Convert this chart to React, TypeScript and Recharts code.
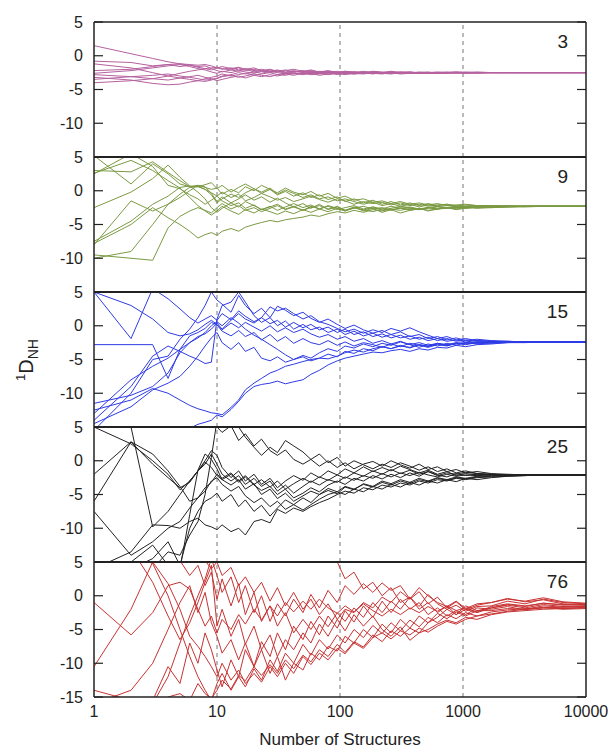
import { LineChart, Line, XAxis, YAxis, ReferenceLine } from 'recharts';

// number of structures (x positions where each running average is read)
const xs = [
  1, 2, 3, 4, 5, 6, 7, 8, 9, 10,
  11, 13, 15, 17, 20, 23, 27, 31, 36, 42,
  50, 58, 68, 80, 95, 110, 130, 155, 185, 220,
  260, 310, 370, 440, 520, 620, 740, 880, 1050, 1300,
  1700, 2300, 3200, 4500, 6500, 10000,
];

const xTicks = [1, 10, 100, 1000, 10000];
const yTicks = [5, 0, -5, -10];
const yTicksLast = [5, 0, -5, -10, -15];

// panel "3"
const n3 = [
  [1.5, 0.3, -0.4, -0.9, -1.2, -1.3, -1.4, -1.3, -1.5, -1.8, -2.0, -1.8, -2.1, -1.9, -2.2, -2.0, -2.3, -2.1, -2.4, -2.2, -2.5, -2.3, -2.6, -2.4, -2.5, -2.3, -2.5, -2.6, -2.4, -2.5, -2.6, -2.5, -2.4, -2.5, -2.6, -2.5, -2.5, -2.4, -2.5, -2.5, -2.5, -2.5, -2.5, -2.5, -2.5, -2.5],
  [-0.8, -1.0, -1.5, -1.3, -1.6, -1.4, -1.7, -1.9, -2.1, -1.8, -1.6, -1.9, -1.7, -2.0, -1.8, -2.2, -2.0, -2.3, -2.1, -2.4, -2.2, -2.5, -2.3, -2.4, -2.6, -2.4, -2.5, -2.3, -2.5, -2.6, -2.4, -2.5, -2.6, -2.4, -2.5, -2.5, -2.6, -2.5, -2.5, -2.4, -2.5, -2.5, -2.5, -2.5, -2.5, -2.5],
  [-1.2, -1.8, -2.5, -3.0, -3.3, -3.1, -2.9, -3.2, -3.4, -3.7, -3.5, -3.2, -3.0, -3.3, -2.9, -3.1, -2.8, -3.0, -2.7, -2.9, -2.6, -2.8, -2.7, -2.5, -2.8, -2.6, -2.7, -2.5, -2.6, -2.7, -2.5, -2.6, -2.5, -2.6, -2.5, -2.6, -2.5, -2.5, -2.6, -2.5, -2.5, -2.5, -2.5, -2.5, -2.5, -2.5],
  [-2.2, -2.0, -1.6, -1.3, -1.2, -1.4, -1.6, -1.5, -1.9, -2.2, -2.4, -2.1, -2.3, -2.0, -2.4, -2.2, -2.5, -2.3, -2.6, -2.4, -2.3, -2.6, -2.4, -2.7, -2.5, -2.6, -2.4, -2.5, -2.7, -2.5, -2.6, -2.4, -2.5, -2.6, -2.5, -2.4, -2.5, -2.6, -2.5, -2.5, -2.5, -2.5, -2.5, -2.5, -2.5, -2.5],
  [-2.8, -3.1, -3.4, -3.6, -3.3, -3.5, -3.7, -3.4, -3.2, -3.0, -2.7, -3.0, -2.8, -2.6, -2.9, -2.7, -2.5, -2.8, -2.6, -2.7, -2.5, -2.7, -2.6, -2.8, -2.6, -2.5, -2.7, -2.6, -2.5, -2.6, -2.7, -2.5, -2.6, -2.5, -2.4, -2.6, -2.5, -2.5, -2.6, -2.5, -2.5, -2.5, -2.5, -2.5, -2.5, -2.5],
  [-3.2, -3.6, -4.1, -4.3, -4.2, -3.9, -3.7, -3.8, -3.6, -3.4, -3.1, -2.9, -3.2, -3.0, -2.7, -2.9, -3.1, -2.8, -2.9, -2.6, -2.8, -2.6, -2.9, -2.7, -2.6, -2.8, -2.6, -2.7, -2.5, -2.6, -2.5, -2.7, -2.6, -2.5, -2.6, -2.5, -2.6, -2.5, -2.5, -2.6, -2.5, -2.5, -2.5, -2.5, -2.5, -2.5],
  [-3.5, -3.1, -2.9, -2.7, -3.0, -3.2, -3.4, -3.6, -3.5, -3.3, -3.0, -2.8, -2.5, -2.7, -2.4, -2.6, -2.3, -2.5, -2.7, -2.5, -2.7, -2.4, -2.6, -2.5, -2.3, -2.5, -2.6, -2.4, -2.6, -2.5, -2.4, -2.6, -2.5, -2.6, -2.5, -2.6, -2.5, -2.4, -2.5, -2.5, -2.5, -2.5, -2.5, -2.5, -2.5, -2.5],
  [-4.0, -3.7, -3.4, -3.0, -2.6, -2.3, -2.1, -1.9, -1.8, -1.7, -1.9, -2.1, -1.8, -2.2, -2.0, -2.3, -2.1, -2.4, -2.2, -2.0, -2.3, -2.1, -2.4, -2.2, -2.5, -2.3, -2.4, -2.6, -2.4, -2.5, -2.3, -2.5, -2.4, -2.6, -2.5, -2.5, -2.4, -2.5, -2.5, -2.5, -2.5, -2.5, -2.5, -2.5, -2.5, -2.5],
  [-2.6, -2.2, -1.8, -1.5, -1.3, -1.6, -1.9, -2.1, -2.4, -2.6, -2.3, -2.5, -2.2, -2.4, -2.6, -2.3, -2.4, -2.2, -2.5, -2.3, -2.4, -2.2, -2.5, -2.3, -2.4, -2.6, -2.4, -2.5, -2.3, -2.4, -2.5, -2.4, -2.5, -2.5, -2.6, -2.5, -2.5, -2.5, -2.4, -2.5, -2.5, -2.5, -2.5, -2.5, -2.5, -2.5],
];

// panel "9"
const n9 = [
  [5.2, 1.0, 4.0, 2.5, 1.0, 0.6, 0.7, 0.2, -0.3, -0.8, -0.2, -1.0, -0.5, -1.5, -1.0, -0.4, -0.9, -1.4, -1.0, -1.6, -1.2, -0.8, -1.3, -1.7, -1.2, -1.5, -2.0, -1.6, -1.9, -1.7, -2.1, -1.8, -2.2, -2.0, -2.3, -2.1, -2.0, -2.2, -2.3, -2.2, -2.3, -2.2, -2.3, -2.3, -2.3, -2.3],
  [3.0, 2.8, 4.3, 2.7, 1.5, 0.6, 0.8, 0.5, 0.2, 0.4, -0.5, 0.2, -0.3, 0.6, 0.0, 0.8, 0.2, -0.3, 0.4, -0.2, -0.6, -0.1, -0.8, -0.4, -1.1, -0.8, -1.4, -1.2, -1.7, -1.5, -1.9, -1.6, -2.0, -1.8, -2.1, -1.9, -2.2, -2.1, -2.0, -2.2, -2.2, -2.3, -2.3, -2.3, -2.3, -2.3],
  [2.5, 5.5, 3.6, 0.8, 0.3, -0.6, -1.2, -2.0, -1.4, -0.8, -1.5, -2.2, -1.8, -2.6, -2.1, -2.8, -2.4, -2.0, -2.7, -2.3, -2.9, -2.5, -2.2, -2.7, -2.4, -2.9, -2.6, -2.3, -2.7, -2.5, -2.8, -2.6, -2.9, -2.7, -2.5, -2.7, -2.6, -2.4, -2.5, -2.4, -2.4, -2.3, -2.3, -2.3, -2.3, -2.3],
  [-2.5, -0.2, 1.8, 3.8, 2.0, 0.7, -0.2, -1.2, -2.5, -3.2, -2.6, -1.8, -2.4, -1.6, -2.2, -2.8, -2.3, -2.9, -2.4, -1.9, -2.5, -2.1, -2.7, -2.3, -2.8, -2.5, -2.2, -2.7, -2.4, -2.9, -2.6, -2.3, -2.5, -2.8, -2.6, -2.4, -2.6, -2.5, -2.3, -2.4, -2.4, -2.3, -2.3, -2.3, -2.3, -2.3],
  [-7.5, -4.5, -2.0, -0.8, 0.5, 0.7, 0.6, 0.9, 1.2, 0.3, 0.8, -0.2, 0.5, 1.0, 0.3, -0.2, 0.4, -0.5, 0.1, -0.4, -1.0, -0.6, -1.2, -0.9, -1.5, -1.2, -1.6, -2.0, -1.7, -2.2, -1.9, -2.3, -2.0, -2.4, -2.1, -2.3, -2.2, -2.4, -2.3, -2.2, -2.3, -2.3, -2.3, -2.3, -2.3, -2.3],
  [-8.0, -1.5, -3.0, -2.0, -1.0, 0.0, 0.8, 0.6, -0.4, -1.6, -0.9, -1.8, -1.2, -0.6, -1.4, -0.9, -1.7, -1.1, -1.8, -2.4, -1.9, -2.6, -2.0, -2.8, -2.3, -2.9, -2.4, -3.0, -2.6, -3.2, -2.8, -3.3, -2.9, -2.6, -3.0, -2.7, -2.5, -2.8, -2.6, -2.4, -2.5, -2.4, -2.3, -2.3, -2.3, -2.3],
  [-9.5, -10.0, -10.3, -5.5, -3.8, -3.0, -2.5, -2.9, -3.3, -2.5, -1.9, -2.7, -2.2, -2.9, -2.5, -3.1, -2.6, -2.2, -2.8, -2.4, -2.9, -2.3, -2.7, -2.2, -2.6, -3.0, -2.5, -2.9, -2.4, -2.7, -2.3, -2.6, -2.4, -2.7, -2.5, -2.3, -2.5, -2.4, -2.6, -2.4, -2.3, -2.3, -2.3, -2.3, -2.3, -2.3],
  [-7.8, -5.0, -2.5, -4.0, -5.0, -6.0, -7.0, -6.5, -6.2, -6.6, -6.0, -5.6, -6.0, -5.4, -5.0, -4.7, -4.4, -4.6, -4.3, -4.1, -3.9, -3.6, -3.8, -3.4, -3.1, -3.3, -2.9, -3.2, -2.8, -3.0, -2.7, -2.9, -2.6, -2.8, -2.5, -2.7, -2.5, -2.6, -2.4, -2.5, -2.4, -2.4, -2.3, -2.3, -2.3, -2.3],
  [-10.0, -9.0, -5.0, -2.0, -0.5, 0.5, 0.6, 0.2, -0.6, -1.8, -1.2, -0.5, -1.0, -0.3, 0.3, -0.4, 0.2, -0.6, -0.1, -0.8, -0.3, -1.0, -0.6, -1.3, -0.9, -1.6, -1.2, -1.8, -1.4, -2.0, -1.6, -2.1, -1.8, -2.2, -1.9, -2.2, -2.0, -2.3, -2.1, -2.2, -2.2, -2.3, -2.3, -2.3, -2.3, -2.3],
  [2.6, 4.5, 3.0, 1.5, 0.4, -1.0, -2.2, -3.0, -3.6, -3.0, -2.3, -3.0, -3.5, -2.8, -3.3, -2.7, -3.1, -3.5, -3.0, -3.4, -2.8, -3.2, -2.7, -3.1, -2.6, -3.0, -2.5, -2.8, -3.1, -2.7, -2.9, -2.5, -2.8, -2.6, -2.9, -2.7, -2.5, -2.7, -2.5, -2.6, -2.5, -2.4, -2.4, -2.3, -2.3, -2.3],
];

// panel "15"
const n15 = [
  [5.0, -1.9, 5.5, 4.0, 2.5, 1.2, 0.4, 1.0, 1.5, 0.8, 1.8, 0.9, 2.2, 1.4, 0.6, 1.2, 0.3, 0.8, -0.2, 0.5, -0.3, 0.2, -0.6, -0.2, -1.0, -0.5, -1.3, -0.9, -1.6, -1.2, -1.8, -1.4, -2.0, -1.7, -2.2, -1.9, -2.3, -2.1, -2.4, -2.2, -2.3, -2.4, -2.4, -2.4, -2.4, -2.4],
  [-2.8, -2.8, -2.8, -7.8, -3.5, -1.5, -1.0, -0.4, 0.5, 0.1, -0.8, -1.5, -0.7, -1.6, -1.0, -2.1, -1.3, -2.3, -1.6, -2.6, -1.9, -2.5, -2.8, -2.2, -2.9, -2.4, -3.0, -2.5, -2.8, -3.2, -2.7, -3.1, -2.6, -2.9, -3.2, -2.8, -3.0, -2.6, -2.8, -2.5, -2.6, -2.5, -2.4, -2.4, -2.4, -2.4],
  [-12.5, -11.0, -9.3, -10.0, -11.0, -11.8, -12.3, -12.6, -12.9, -13.0, -13.2, -12.1, -11.0, -9.5, -8.5, -7.8, -7.0, -6.6, -6.0, -5.7, -5.3, -5.0, -4.8, -4.9, -4.5, -4.0, -3.6, -3.9, -3.4, -3.1, -3.4, -3.0, -3.2, -2.8, -3.0, -2.7, -2.9, -2.6, -2.7, -2.5, -2.5, -2.4, -2.4, -2.4, -2.4, -2.4],
  [-15.5, -10.0, -5.0, -4.5, -2.0, -0.5, 1.2, 3.0, 5.0, 3.8, 3.2, 2.0, 4.5, 3.0, 1.8, 2.6, 1.2, 2.9, 2.3, 1.5, 2.0, 1.1, 0.5, 1.0, 0.2, -0.4, 0.1, -0.6, -1.1, -0.7, -1.3, -0.9, -1.6, -1.3, -1.9, -1.6, -2.1, -1.8, -2.2, -2.0, -2.2, -2.3, -2.4, -2.4, -2.4, -2.4],
  [-16.0, -15.5, -16.0, -15.8, -15.6, -15.2, -14.6, -14.3, -14.0, -13.2, -13.5, -12.4, -11.2, -10.0, -9.0, -8.7, -8.5, -8.2, -8.6, -8.3, -8.0, -7.2, -6.6, -5.8, -5.2, -4.8, -4.5, -4.2, -3.9, -4.0, -3.7, -3.5, -3.8, -3.4, -3.6, -3.2, -3.3, -2.9, -3.1, -2.8, -2.7, -2.5, -2.5, -2.4, -2.4, -2.4],
  [-14.0, -9.0, -4.5, -3.0, -3.8, -4.5, -5.0, -5.6, -5.4, 1.0, 3.0, 3.5, 5.0, 3.5, 1.5, 0.5, 1.2, 0.0, 0.7, -0.5, 0.2, -0.6, -0.2, -1.0, -0.5, -1.3, -0.8, -1.5, -1.1, -1.7, -1.3, -1.8, -1.5, -2.0, -1.7, -2.2, -1.9, -2.3, -2.1, -2.3, -2.3, -2.4, -2.4, -2.4, -2.4, -2.4],
  [-13.0, -8.0, -6.0, -4.8, -3.5, -2.5, -1.8, -1.0, 0.0, 0.6, 0.0, 1.2, 0.4, -0.5, -1.4, -2.0, -2.8, -3.5, -4.3, -5.0, -4.6, -5.2, -4.8, -4.2, -4.6, -3.8, -4.1, -3.4, -3.7, -3.1, -3.4, -2.9, -3.3, -2.8, -3.1, -2.6, -2.9, -2.7, -2.5, -2.6, -2.5, -2.4, -2.4, -2.4, -2.4, -2.4],
  [-11.5, -10.3, -9.0, -7.0, -4.0, -2.5, -1.6, -1.2, -0.5, 0.4, -0.5, 0.8, 1.8, 1.0, 0.4, 1.2, 2.8, 2.2, 2.6, 1.8, 1.0, 1.5, 0.6, 0.2, -0.4, -0.9, -0.5, -1.1, -0.6, -1.0, -0.4, -0.8, -0.3, -0.9, -1.4, -1.9, -1.6, -2.1, -1.9, -2.2, -2.3, -2.3, -2.4, -2.4, -2.4, -2.4],
  [5.0, 3.0, 1.0, -1.0, -1.5, -1.2, -0.6, 0.2, 0.8, 0.2, -0.6, 0.4, -0.3, 0.5, -0.2, -0.8, 0.0, -0.9, -0.3, -1.0, -0.5, -1.2, -1.7, -1.3, -2.0, -1.6, -2.3, -1.9, -2.6, -2.2, -2.7, -2.3, -2.8, -2.5, -2.9, -2.6, -2.8, -2.5, -2.6, -2.4, -2.4, -2.4, -2.4, -2.4, -2.4, -2.4],
  [-14.5, -12.0, -9.5, -8.5, -7.5, -6.0, -4.5, -3.0, -1.8, -1.0, -2.5, -3.5, -2.5, -3.8, -3.2, -4.8, -5.2, -4.6, -5.4, -5.0, -4.4, -4.8, -4.0, -3.4, -3.8, -3.0, -3.3, -2.7, -3.1, -2.6, -2.9, -2.4, -2.8, -3.2, -2.7, -3.0, -2.6, -2.9, -2.5, -2.7, -2.5, -2.4, -2.4, -2.4, -2.4, -2.4],
];

// panel "25"
const n25 = [
  [5.0, 2.5, 0.0, -2.0, -4.3, -3.0, -1.5, -0.5, 1.0, -0.5, -2.0, -3.0, -2.2, -3.5, -2.6, -3.8, -3.0, -4.5, -3.6, -4.8, -3.8, -3.0, -3.6, -2.8, -3.2, -2.4, -2.9, -2.2, -2.6, -1.9, -2.4, -1.8, -2.2, -1.7, -2.1, -2.4, -2.0, -2.3, -2.1, -2.2, -2.1, -2.1, -2.1, -2.1, -2.1, -2.1],
  [8.0, 5.0, -9.8, -7.5, -5.0, -3.0, -1.5, 0.0, 1.5, 0.8, -1.0, -2.5, -1.5, -3.0, -2.0, -3.5, -2.6, -4.0, -3.0, -2.2, -2.9, -1.8, -2.5, -1.5, -2.1, -1.2, -1.8, -0.9, -1.6, -1.0, -1.5, -0.8, -1.3, -1.8, -1.4, -2.0, -1.6, -2.2, -1.9, -2.1, -2.0, -2.1, -2.1, -2.1, -2.1, -2.1],
  [-2.0, 2.8, -0.5, -2.5, -4.0, -3.2, -1.5, -0.2, -1.0, -2.2, -2.8, -3.6, -2.8, -4.2, -3.4, -5.0, -4.2, -5.6, -4.8, -6.0, -5.2, -4.5, -5.0, -4.1, -4.6, -3.8, -4.2, -3.5, -3.9, -3.2, -3.6, -3.0, -3.4, -2.8, -3.1, -2.6, -2.9, -2.5, -2.7, -2.4, -2.3, -2.2, -2.1, -2.1, -2.1, -2.1],
  [-6.0, 2.8, 1.0, -1.5, -3.8, -6.0, -5.5, -4.0, -3.2, -2.0, -2.6, -1.8, -3.0, -2.2, -3.5, -2.8, -3.9, -3.0, -4.2, -3.4, -2.6, -3.2, -2.4, -2.9, -2.1, -2.6, -1.8, -2.3, -1.5, -2.0, -1.3, -1.9, -1.4, -2.0, -1.6, -2.2, -1.8, -2.0, -1.7, -1.9, -2.0, -2.1, -2.1, -2.1, -2.1, -2.1],
  [-7.5, -14.0, -12.0, -10.0, -9.0, -7.0, -5.5, -4.5, -3.0, -2.5, -3.5, -4.5, -3.8, -5.2, -6.2, -5.5, -6.8, -6.0, -7.2, -6.5, -7.3, -6.5, -5.7, -5.0, -4.6, -5.0, -4.2, -4.6, -3.8, -4.2, -3.5, -3.9, -3.2, -3.6, -3.0, -3.3, -2.8, -3.1, -2.6, -2.8, -2.5, -2.3, -2.2, -2.1, -2.1, -2.1],
  [-16.0, -13.5, -9.5, -9.6, -10.0, -9.0, -8.5, -9.5, -9.8, -10.2, -9.5, -10.5, -10.0, -11.0, -9.0, -8.7, -9.2, -7.2, -7.8, -7.0, -7.5, -6.8, -6.2, -5.7, -5.0, -4.5, -4.8, -4.0, -4.3, -3.6, -3.9, -3.3, -3.6, -3.0, -3.3, -2.8, -3.0, -2.6, -2.8, -2.5, -2.4, -2.3, -2.2, -2.1, -2.1, -2.1],
  [-17.0, -16.0, -14.5, -12.0, -15.5, -10.0, -7.5, -6.0, -5.5, -4.8, -6.0, -5.0, -6.8, -5.8, -7.5, -6.6, -8.2, -7.0, -5.8, -6.5, -5.5, -6.2, -5.0, -4.4, -4.9, -3.9, -4.3, -3.4, -3.8, -3.0, -3.4, -2.8, -3.2, -2.6, -3.0, -2.5, -2.8, -2.4, -2.6, -2.3, -2.2, -2.2, -2.1, -2.1, -2.1, -2.1],
  [-16.5, -15.0, -12.5, -15.5, -16.0, -8.0, -1.4, 1.0, 0.2, -1.2, -2.8, -2.0, -3.2, -2.4, -3.6, -4.4, -3.8, -5.0, -4.2, -5.5, -4.8, -4.0, -4.6, -3.6, -3.0, -3.5, -2.6, -3.0, -2.2, -2.7, -2.0, -2.5, -1.8, -2.3, -1.6, -2.1, -2.4, -1.9, -2.2, -2.0, -2.1, -2.1, -2.1, -2.1, -2.1, -2.1],
  [-15.5, -17.0, -16.0, -13.5, -14.0, -11.0, -9.0, -5.0, 0.5, 6.0, 7.0, 5.5, 5.0, 3.5, 2.0, 0.8, 2.0, 1.2, 3.0, 2.2, 1.3, 0.2, 1.0, -0.3, 0.5, -0.8, 0.0, -0.6, -1.2, -0.5, -1.0, -0.3, -0.8, -1.4, -0.9, -1.6, -1.2, -1.8, -1.5, -1.9, -2.0, -2.1, -2.1, -2.1, -2.1, -2.1],
  [6.0, 7.0, 8.0, 9.0, 9.0, 8.0, 7.0, 6.0, 5.5, 5.0, 4.2, 5.2, 3.0, 4.0, 2.2, 3.2, 1.5, 0.8, 1.6, 0.2, -0.5, 0.2, -0.8, 0.0, -1.0, -0.3, -1.2, -0.5, -0.1, -0.8, 0.0, -0.6, -1.1, -0.5, -1.3, -0.9, -1.6, -1.3, -1.8, -1.6, -1.9, -2.0, -2.1, -2.1, -2.1, -2.1],
];

// panel "76"
const n76 = [
  [-1.0, -5.8, -2.5, 1.5, 2.0, 1.0, -2.0, -4.5, -3.0, -5.5, -3.5, -5.0, -2.8, -4.2, -2.0, -3.6, -1.5, -3.0, -1.0, -2.4, -0.8, -2.0, -0.5, -1.8, -2.6, -1.5, -2.4, -1.2, -2.2, -3.0, -2.0, -2.8, -1.8, -2.5, -1.6, -2.3, -1.5, -2.2, -1.8, -2.4, -1.6, -1.2, -1.5, -1.1, -1.4, -1.3],
  [-10.5, -2.0, 5.0, 1.8, -2.0, -6.0, -7.5, -9.0, -10.5, -12.0, -10.0, -12.5, -11.0, -13.0, -11.5, -12.8, -10.5, -12.0, -10.0, -11.5, -9.0, -10.2, -8.5, -9.5, -7.8, -8.6, -7.0, -7.8, -6.2, -5.5, -6.4, -5.2, -5.8, -4.8, -5.4, -4.5, -3.8, -4.2, -3.5, -3.0, -2.7, -2.3, -2.0, -1.8, -1.9, -1.7],
  [-14.0, -15.5, -16.0, -12.0, -7.0, -3.0, 0.0, 2.5, 5.5, 3.0, 0.5, 2.8, -1.0, 1.5, -2.5, 0.0, -3.8, -1.2, -3.0, -0.5, -2.5, 0.2, -1.8, 0.8, -1.0, 1.5, 0.2, 1.8, 0.5, 1.9, 0.8, 1.5, -0.5, 0.6, -1.2, -0.2, -1.8, -0.9, -2.1, -1.4, -1.0, -0.5, -0.8, -0.3, -0.9, -1.1],
  [8.0, 6.0, 4.8, 0.0, -5.0, -9.0, -12.0, -14.0, -15.5, -13.0, -11.5, -14.0, -12.0, -13.5, -10.8, -12.5, -9.5, -11.2, -8.5, -10.0, -7.2, -8.8, -6.5, -7.9, -5.8, -7.0, -5.0, -6.2, -4.4, -5.6, -4.0, -5.2, -3.6, -4.6, -3.2, -4.0, -2.8, -3.4, -2.5, -3.0, -2.4, -2.1, -1.9, -1.8, -1.7, -1.6],
  [9.0, 7.0, 2.0, -3.0, -6.5, -4.0, -1.0, 2.0, 4.5, -4.5, -2.0, -6.0, -3.5, -7.2, -4.5, -8.0, -5.8, -9.0, -6.5, -8.0, -5.5, -7.0, -4.2, -6.0, -3.5, -5.2, -2.8, -4.5, -3.0, -5.0, -6.0, -4.6, -6.6, -5.5, -4.0, -3.2, -2.0, -2.8, -1.5, -2.2, -1.8, -1.4, -1.8, -1.3, -1.6, -1.5],
  [7.0, 9.0, 8.0, 6.0, 5.2, 3.0, 4.5, 1.5, 3.5, -0.5, 2.5, -1.5, 1.8, -2.8, 0.5, -3.8, -1.5, -4.5, -2.5, -5.5, -3.5, -5.0, -3.0, -4.6, -2.5, -3.8, -1.8, -3.2, -1.0, -2.5, -0.8, -2.0, -0.2, -1.6, 0.2, -1.2, -2.0, -1.4, -2.3, -1.6, -1.5, -0.8, -1.2, -0.5, -1.0, -1.2],
  [-17.0, -16.5, -15.5, -10.5, -13.0, -7.0, -10.0, -5.5, -8.0, -11.0, -13.5, -9.5, -12.0, -8.0, -10.5, -6.8, -9.0, -5.5, -8.0, -4.5, -6.5, -3.8, -5.8, -3.0, -4.8, -2.2, -3.9, -1.5, -3.2, -0.8, -2.5, -0.5, -2.0, -1.0, -2.8, -1.8, -3.0, -2.2, -2.8, -1.8, -2.0, -1.6, -2.1, -1.7, -2.0, -1.9],
  [-18.0, -17.0, -16.5, -15.0, -14.5, -15.5, -13.0, -14.5, -15.2, -14.0, -12.5, -13.8, -11.8, -12.6, -10.5, -11.8, -10.2, -11.5, -9.5, -10.8, -8.8, -9.8, -8.0, -9.0, -7.2, -8.4, -6.8, -7.6, -5.8, -6.8, -5.2, -6.0, -4.8, -5.5, -5.0, -4.2, -3.6, -4.0, -3.2, -3.5, -2.8, -2.4, -2.2, -2.0, -1.9, -1.8],
  [10.0, 12.0, 11.0, 9.0, 8.0, 7.0, 6.0, 5.2, 4.0, 5.0, 3.0, 4.2, 1.5, 2.8, 0.5, 2.0, -0.8, 1.2, -1.5, 0.5, -2.0, -0.5, -2.8, -1.2, -3.5, -2.0, -2.5, -1.0, -1.8, -0.2, -1.0, 0.6, -0.5, 1.2, 0.0, -1.0, -1.6, -0.8, -1.9, -1.2, -1.0, -0.4, -0.9, -0.6, -1.2, -1.3],
  [12.0, 14.0, 13.0, 12.0, 11.0, 10.0, 9.0, 8.5, 8.0, 7.5, 7.0, 6.5, 6.0, 5.5, 5.8, 5.2, 6.0, 5.5, 6.5, 6.0, 6.8, 6.5, 6.2, 5.8, 5.0, 2.5, 3.5, 1.0, 2.0, 0.0, 1.2, -1.0, -0.2, -2.0, -1.0, -2.5, -1.5, -2.8, -2.0, -2.5, -1.8, -1.3, -1.6, -1.1, -1.3, -1.4],
  [-16.0, -14.0, -10.0, -5.0, -1.0, 1.5, -2.5, 0.5, -4.0, -6.0, -8.5, -6.5, -9.5, -7.0, -10.5, -8.0, -11.5, -9.0, -12.5, -10.0, -11.0, -8.5, -9.5, -7.5, -8.2, -6.0, -7.0, -5.0, -6.2, -4.2, -5.5, -3.5, -4.8, -3.0, -4.0, -2.6, -3.4, -2.4, -3.0, -2.2, -2.2, -1.9, -2.0, -1.5, -1.7, -1.6],
];

const PLOT_TOP = 22;
const PANEL_H = 135;

const panels = [
  { label: '3', lines: n3, color: '#b5619f' },
  { label: '9', lines: n9, color: '#7b9a42' },
  { label: '15', lines: n15, color: '#2e3be6' },
  { label: '25', lines: n25, color: '#222222' },
  { label: '76', lines: n76, color: '#c83232' },
];

function Panel({ lines, color, label, index, last }: any) {
  const data = xs.map((x, i) => {
    const row: Record<string, number> = { x };
    lines.forEach((l: number[], j: number) => {
      row['s' + j] = l[i];
    });
    return row;
  });
  const top = PLOT_TOP + PANEL_H * index;
  const xAxisH = 56;
  const height = 12 + PANEL_H + (last ? xAxisH : 12);
  const ticks = last ? yTicksLast : yTicks;

  return (
    <div style={{ position: 'absolute', left: 0, top: top - 12 }}>
      <LineChart
        width={614}
        height={height}
        data={data}
        margin={{ top: 12, right: 0, bottom: last ? 0 : 12, left: 0 }}
      >
        <XAxis
          dataKey="x"
          type="number"
          scale="log"
          domain={[1, 10000]}
          allowDataOverflow
          ticks={xTicks}
          interval={0}
          hide={!last}
          height={last ? xAxisH : 0}
          tickLine={false}
          axisLine={false}
          tickSize={4}
          tickMargin={5}
          tick={{ fontSize: 16, fill: '#222' }}
          label={
            last
              ? { value: 'Number of Structures', position: 'insideBottom', offset: 8, fontSize: 17, fill: '#222' }
              : undefined
          }
        />
        <YAxis
          yAxisId="l"
          type="number"
          domain={[-15, 5]}
          allowDataOverflow
          ticks={ticks}
          interval={0}
          width={94}
          tickSize={-9}
          tickMargin={20}
          axisLine={{ stroke: '#222', strokeWidth: 1.5 }}
          tickLine={{ stroke: '#222', strokeWidth: 1.2 }}
          tick={{ fontSize: 16, fill: '#222' }}
        />
        <YAxis
          yAxisId="r"
          orientation="right"
          type="number"
          domain={[-15, 5]}
          allowDataOverflow
          ticks={ticks}
          interval={0}
          width={28}
          tickSize={-9}
          tickFormatter={() => ''}
          axisLine={{ stroke: '#222', strokeWidth: 1.5 }}
          tickLine={{ stroke: '#222', strokeWidth: 1.2 }}
        />
        {[10, 100, 1000].map((v) => (
          <ReferenceLine key={v} yAxisId="l" x={v} stroke="#777" strokeDasharray="4 4" strokeWidth={1} />
        ))}
        {lines.map((_: number[], j: number) => (
          <Line
            key={j}
            yAxisId="l"
            type="linear"
            dataKey={'s' + j}
            stroke={color}
            strokeWidth={1}
            dot={false}
            activeDot={false}
            isAnimationActive={false}
          />
        ))}
        <ReferenceLine yAxisId="l" y={5} stroke="#222" strokeWidth={index === 0 ? 1.5 : 2.2} />
        <ReferenceLine yAxisId="l" y={-15} stroke="#222" strokeWidth={last ? 1.5 : 2.2} />
      </LineChart>
      <div
        style={{
          position: 'absolute',
          right: 614 - 568,
          top: 12 + 9,
          fontSize: 19,
          color: '#222',
        }}
      >
        {label}
      </div>
    </div>
  );
}

export default function App() {
  return (
    <div
      style={{
        position: 'absolute',
        left: 0,
        top: 0,
        width: 614,
        height: 753,
        background: '#fff',
        fontFamily: '"Liberation Sans", Arial, sans-serif',
      }}
    >
      {panels.map((p, i) => (
        <Panel key={p.label} {...p} index={i} last={i === panels.length - 1} />
      ))}
      <div
        style={{
          position: 'absolute',
          left: 27,
          top: 360,
          transform: 'translate(-50%, -50%) rotate(-90deg)',
          fontSize: 20,
          color: '#222',
          whiteSpace: 'nowrap',
        }}
      >
        <sup style={{ fontSize: 13 }}>1</sup>D<sub style={{ fontSize: 14 }}>NH</sub>
      </div>
    </div>
  );
}
